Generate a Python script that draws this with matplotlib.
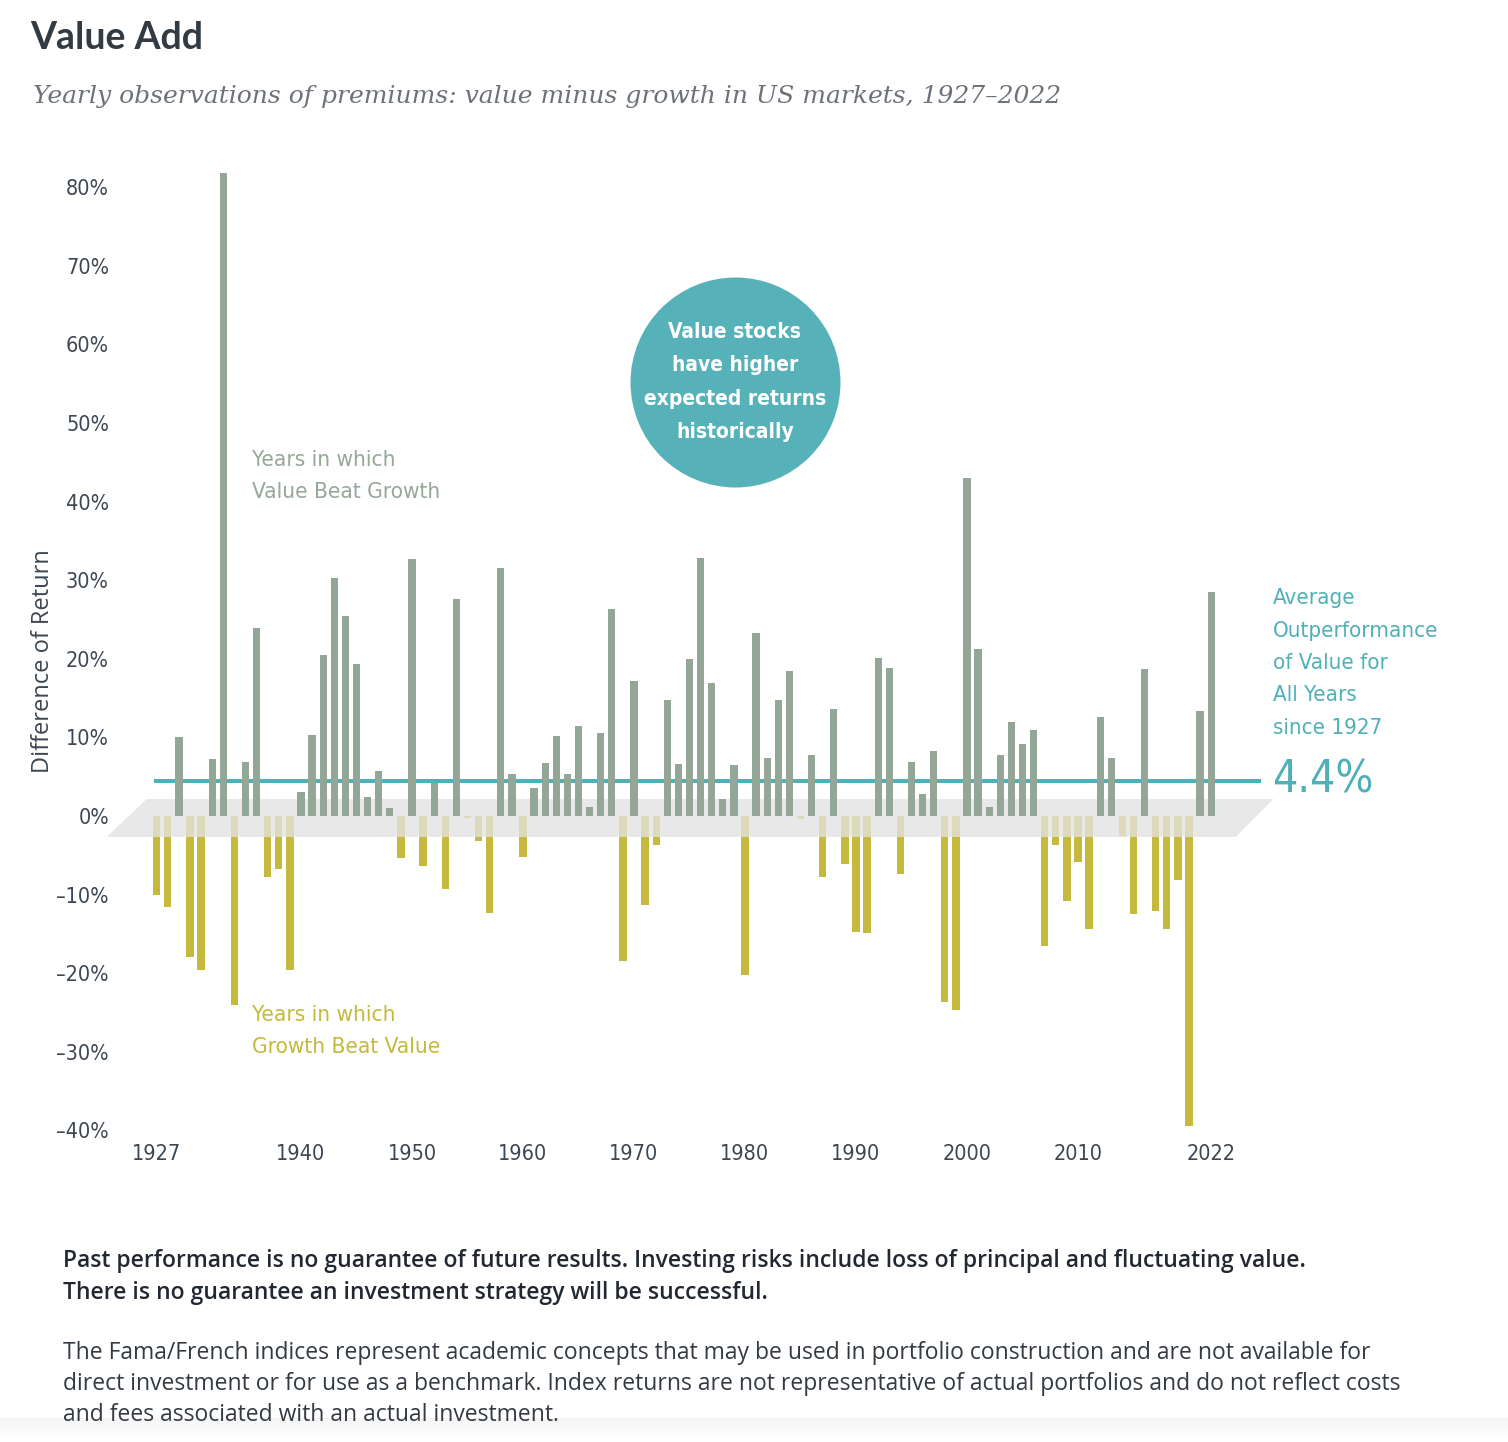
import matplotlib
matplotlib.use("Agg")
import matplotlib.pyplot as plt
from matplotlib import font_manager
from matplotlib.patches import Polygon
import numpy as np

# yearly value minus growth premium, percent
years = list(range(1927, 2023))
premiums = [
    -10.1, -11.6, 10.0, -18.0, -19.6, 7.3, 81.8, -24.0, 6.9, 23.9,    # 1927-1936
    -7.8, -6.8, -19.6, 3.0, 10.3, 20.5, 30.3, 25.5, 19.4, 2.4,        # 1937-1946
    5.7, 1.0, -5.3, 32.7, -6.4, 4.2, -9.3, 27.6, -0.2, -3.2,          # 1947-1956
    -12.4, 31.6, 5.3, -5.2, 3.5, 6.7, 10.2, 5.4, 11.5, 1.1,           # 1957-1966
    10.6, 26.3, -18.4, 17.2, -11.3, -3.7, 14.7, 6.6, 20.0, 32.8,      # 1967-1976
    16.9, 2.2, 6.5, -20.2, 23.3, 7.4, 14.8, 18.4, -0.4, 7.8,          # 1977-1986
    -7.8, 13.6, -6.1, -14.8, -14.9, 20.1, 18.8, -7.4, 6.9, 2.8,       # 1987-1996
    8.3, -23.7, -24.7, 43.0, 21.2, 1.2, 7.7, 11.9, 9.1, 10.9,         # 1997-2006
    -16.5, -3.7, -10.8, -5.8, -14.4, 12.6, 7.4, -2.5, -12.5, 18.7,    # 2007-2016
    -12.1, -14.4, -8.1, -39.5, 13.3, 28.5,                            # 2017-2022
]
avg_premium = 4.4
y_ticks = [-40, -30, -20, -10, 0, 10, 20, 30, 40, 50, 60, 70, 80]
x_tick_years = [1927, 1940, 1950, 1960, 1970, 1980, 1990, 2000, 2010, 2022]

GREEN = "#94a696"
YELLOW = "#c5b93e"
YELLOW_LIGHT = "#dcdabb"
TEAL = "#4fb0b8"
PLATFORM = "#e8e8e8"
DARK = "#3d4751"

names = {f.name for f in font_manager.fontManager.ttflist}
NARROW = "Liberation Sans Narrow" if "Liberation Sans Narrow" in names else "DejaVu Sans"
NARROW_KW = {"family": NARROW}
if NARROW == "DejaVu Sans":
    NARROW_KW["stretch"] = "condensed"
SANS = "Lato" if "Lato" in names else "DejaVu Sans"
BODY = "Open Sans" if "Open Sans" in names else "DejaVu Sans"

W, H = 1508, 1442
fig = plt.figure(figsize=(W / 100, H / 100), dpi=100)

# axes box in pixels, and pixel scale of the data
left_px, right_px, top_px, bot_px = 120, 1290, 150, 1140
x0_px, dx_px = 156.7, 11.1      # 1927 centre, px per year
y0_px, dy_px = 816, 7.86        # zero line, px per percent

ax = fig.add_axes([left_px / W, 1 - bot_px / H, (right_px - left_px) / W, (bot_px - top_px) / H])
ax.set_xlim(1927 + (left_px - x0_px) / dx_px, 1927 + (right_px - x0_px) / dx_px)
ax.set_ylim(-(bot_px - y0_px) / dy_px, (y0_px - top_px) / dy_px)

yrs = np.array(years)
vals = np.array(premiums)
pos = vals > 0
neg = ~pos

# grey "floor" at zero
plat_top = 17 / dy_px
plat_bot = -21 / dy_px
floor = Polygon([(1926.1, plat_top), (2027.6, plat_top), (2024.2, plat_bot), (1922.5, plat_bot)],
                closed=True, facecolor=PLATFORM, edgecolor="none", zorder=1, clip_on=False)
ax.add_patch(floor)

ax.plot([1926.8, 2026.5], [avg_premium, avg_premium], color=TEAL, lw=2.9,
        solid_capstyle="butt", zorder=2)

ax.bar(yrs[pos], vals[pos], width=0.66, color=GREEN, zorder=3)
ax.bar(yrs[neg], vals[neg], width=0.66, color=YELLOW, zorder=3)
ax.bar(yrs[neg], np.maximum(vals[neg], plat_bot), width=0.66, color=YELLOW_LIGHT, zorder=4)

for s in ax.spines.values():
    s.set_visible(False)
ax.set_yticks(y_ticks)
ax.set_yticklabels([f"{v}%".replace("-", "\u2013") for v in y_ticks], color=DARK, fontsize=15.5, **NARROW_KW)
ax.set_xticks(x_tick_years)
ax.set_xticklabels([str(y) for y in x_tick_years], color=DARK, fontsize=15.5, **NARROW_KW)
ax.tick_params(axis="y", length=0, pad=8)
ax.tick_params(axis="x", length=0, pad=3)

ax.set_ylabel("Difference of Return", color=DARK, fontsize=17, family=BODY, va="center")
ax.yaxis.set_label_coords((43 - left_px) / (right_px - left_px), (bot_px - 661) / (bot_px - top_px))

def px_to_data(xp, yp):
    return 1927 + (xp - x0_px) / dx_px, (y0_px - yp) / dy_px

# bubble
cx, cy = px_to_data(735, 382)
ax.scatter([cx], [cy], s=(210 * 0.72) ** 2, color="#56b1b8", linewidths=0, zorder=6)
ax.text(cx, cy, "Value stocks\nhave higher\nexpected returns\nhistorically", ha="center", va="center",
        color="white", fontsize=15, fontweight="bold", linespacing=1.85, zorder=7, **NARROW_KW)

tx, ty = px_to_data(252, 476)
ax.text(tx, ty, "Years in which\nValue Beat Growth", ha="left", va="center", color="#96a897",
        fontsize=16.2, linespacing=1.72, **NARROW_KW)
tx, ty = px_to_data(252, 1031)
ax.text(tx, ty, "Years in which\nGrowth Beat Value", ha="left", va="center", color=YELLOW,
        fontsize=16.2, linespacing=1.72, **NARROW_KW)

tx, ty = px_to_data(1273, 663)
ax.text(tx, ty, "Average\nOutperformance\nof Value for\nAll Years\nsince 1927", ha="left", va="center",
        color=TEAL, fontsize=16, linespacing=1.78, clip_on=False, **NARROW_KW)
tx, ty = px_to_data(1272, 780)
ax.text(tx, ty, f"{avg_premium}%", ha="left", va="center", color=TEAL, fontsize=32,
        clip_on=False, **NARROW_KW)

# titles and notes
fig.text(30 / W, 1 - 38 / H, "Value Add", ha="left", va="center", fontsize=27,
         fontweight="bold", color="#323a44", family=SANS)
fig.text(33 / W, 1 - 97 / H,
         "Yearly observations of premiums: value minus growth in US markets, 1927\u20132022",
         ha="left", va="center", fontsize=18, style="italic", color="#6d727a", family="DejaVu Serif")
fig.text(63 / W, 1 - 1277 / H,
         "Past performance is no guarantee of future results. Investing risks include loss of principal and fluctuating value.\n"
         "There is no guarantee an investment strategy will be successful.",
         ha="left", va="center", fontsize=16.5, fontweight="semibold", color="#222831",
         linespacing=1.42, family=BODY)
fig.text(63 / W, 1 - 1384 / H,
         "The Fama/French indices represent academic concepts that may be used in portfolio construction and are not available for\n"
         "direct investment or for use as a benchmark. Index returns are not representative of actual portfolios and do not reflect costs\n"
         "and fees associated with an actual investment.",
         ha="left", va="center", fontsize=16.5, color="#333a42", linespacing=1.38, family=BODY)

# faint shadow along the bottom edge
shade = fig.add_axes([0, 0, 1, 24 / H])
shade.imshow(np.linspace(1, 0, 50).reshape(-1, 1), aspect="auto", cmap="Greys",
             vmin=0, vmax=12, extent=[0, 1, 0, 1])
shade.axis("off")

fig.savefig("out.png", dpi=100)
